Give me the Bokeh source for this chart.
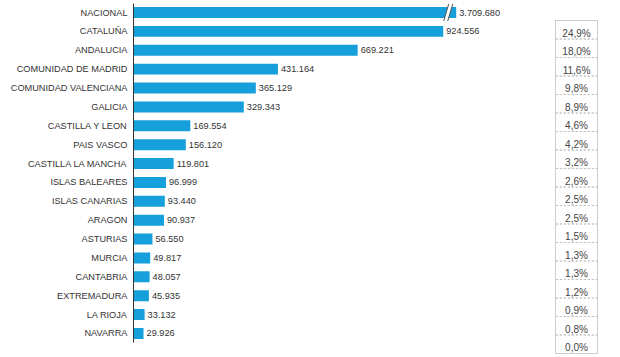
from bokeh.plotting import figure
from bokeh.layouts import row
from bokeh.models import Range1d, FixedTicker, ColumnDataSource
from bokeh.embed import file_html
from bokeh.resources import INLINE
from bokeh.core.properties import value

# ---------------- data ----------------
categories = ["NACIONAL", "CATALUÑA", "ANDALUCIA", "COMUNIDAD DE MADRID",
              "COMUNIDAD VALENCIANA", "GALICIA", "CASTILLA Y LEON", "PAIS VASCO",
              "CASTILLA LA MANCHA", "ISLAS BALEARES", "ISLAS CANARIAS", "ARAGON",
              "ASTURIAS", "MURCIA", "CANTABRIA", "EXTREMADURA", "LA RIOJA", "NAVARRA"]
values = [3709680, 924556, 669221, 431164, 365129, 329343, 169554, 156120,
          119801, 96999, 93440, 90937, 56550, 49817, 48057, 45935, 33132, 29926]
shares = [24.9, 18.0, 11.6, 9.8, 8.9, 4.6, 4.2, 3.2, 2.6, 2.5, 2.5, 1.5,
          1.3, 1.3, 1.2, 0.9, 0.8, 0.0]

# ---------------- style / layout ----------------
FONT = value("Liberation Sans")
BLUE = "#159fdb"
TXT = "#333333"
H = 356
W1, W2 = 553, 67
LEFT_BORDER = 133
FRAME_W = W1 - LEFT_BORDER
X_END = 1253800.0
n = len(categories)
ROW_PX = 18.88
FIRST_ROW_PX = 12          # centre of the first row from the top
AXIS_PAD = 9 / ROW_PX      # axis line extends this far beyond first/last rows
BAR_H = 0.58
Y_TOP = -FIRST_ROW_PX / ROW_PX
Y_BOT = Y_TOP + H / ROW_PX

idx = list(range(n))
cap = max(values[1:]) * 1.042          # broken-axis display length
disp = [min(v, cap) for v in values]
labels = [f"{v:,}".replace(",", ".") for v in values]

p = figure(width=W1, height=H, x_range=Range1d(0, X_END),
           y_range=Range1d(Y_BOT, Y_TOP), output_backend="svg",
           toolbar_location=None, x_axis_location=None, title=None,
           min_border_left=LEFT_BORDER, min_border_right=0,
           min_border_top=0, min_border_bottom=0)
p.outline_line_color = None
p.grid.visible = False
p.background_fill_color = "white"
p.border_fill_color = "white"

ax = p.yaxis[0]
ax.bounds = (-AXIS_PAD, n - 1 + AXIS_PAD)
ax.ticker = FixedTicker(ticks=idx)
ax.major_label_overrides = {i: c for i, c in enumerate(categories)}
ax.major_tick_line_color = None
ax.major_tick_out = 0
ax.major_tick_in = 0
ax.minor_tick_line_color = None
ax.minor_tick_out = 0
ax.axis_line_color = "#333333"
ax.axis_line_width = 1
ax.major_label_standoff = 6
ax.major_label_text_font = "Liberation Sans"
ax.major_label_text_font_size = "9.2px"
ax.major_label_text_color = TXT

src = ColumnDataSource(dict(y=idx, right=disp, label=labels))
p.hbar(y="y", left=0, right="right", height=BAR_H, source=src,
       fill_color=BLUE, line_color=None)
p.text(x="right", y="y", text="label", source=src, x_offset=3,
       text_baseline="middle", text_align="left", text_font_size="9.2px",
       text_color=TXT, text_font=FONT)

# break marker on bars exceeding the cap
xu = X_END / FRAME_W      # data units per px
yu = 1.0 / ROW_PX
for i, v in enumerate(values):
    if v > cap:
        e = disp[i]
        a = e - 10 * xu
        b = e - 6 * xu
        s = 2.5 * xu
        h = 8.5 * yu
        p.patch([a - s, a + s, b + s, b - s], [i + h, i - h, i - h, i + h],
                fill_color="white", line_color=None)
        p.line([a - s, a + s], [i + h, i - h], line_color="#555555", line_width=1)
        p.line([b - s, b + s], [i + h, i - h], line_color="#555555", line_width=1)

# ---------------- share table ----------------
m = len(shares)
CELL_PX = 18.5
T_TOP = 20
t = figure(width=W2, height=H, x_range=Range1d(0, W2),
           y_range=Range1d((H - T_TOP) / CELL_PX, -T_TOP / CELL_PX),
           output_backend="svg", title=None,
           toolbar_location=None, x_axis_location=None, y_axis_location=None,
           min_border_left=0, min_border_right=0, min_border_top=0,
           min_border_bottom=0)
t.outline_line_color = None
t.grid.visible = False

BL, BR = 2, 44
TXT_POS = 12.5 / CELL_PX
tsrc = ColumnDataSource(dict(top=list(range(m)), bottom=[i + 1 for i in range(m)],
                             ty=[i + TXT_POS for i in range(m)],
                             lab=[f"{s:.1f}%".replace(".", ",") for s in shares]))
t.quad(left=BL, right=BR, top="top", bottom="bottom", source=tsrc,
       fill_color=None, line_color="#c4c4c4", line_dash="2 2", line_width=1)
t.quad(left=BL, right=BR, top=0, bottom=m, fill_color=None,
       line_color="#cccccc", line_width=1)
t.text(x=(BL + BR) / 2, y="ty", text="lab", source=tsrc,
       text_align="center", text_baseline="middle", text_font_size="10px",
       text_color="#444444", text_font=FONT)

layout = row(p, t)
open("out.html", "w").write(file_html(layout, INLINE))
